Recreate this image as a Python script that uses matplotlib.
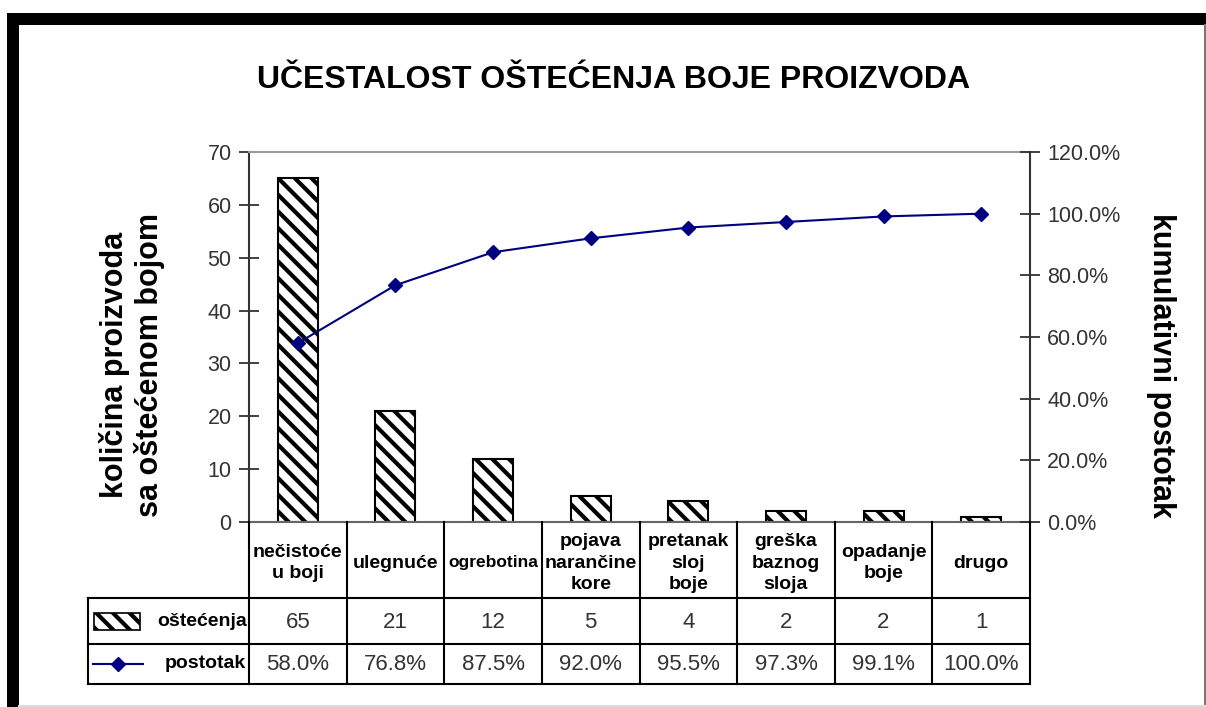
import matplotlib
matplotlib.use("Agg")
import matplotlib.pyplot as plt
import matplotlib.transforms as mtransforms
from matplotlib.patches import Rectangle
from matplotlib.lines import Line2D
from matplotlib.ticker import FuncFormatter

plt.rcParams["font.family"] = ["Liberation Sans", "DejaVu Sans"]
plt.rcParams["hatch.linewidth"] = 3.0

# data
categories = ["nečistoće\nu boji", "ulegnuće", "ogrebotina", "pojava\nnarančine\nkore",
              "pretanak\nsloj\nboje", "greška\nbaznog\nsloja", "opadanje\nboje", "drugo"]
counts = [65, 21, 12, 5, 4, 2, 2, 1]
cumulative = [58.0, 76.8, 87.5, 92.0, 95.5, 97.3, 99.1, 100.0]
series_names = ["oštećenja", "postotak"]

W, H = 1206, 707
NAVY = "#000080"
HATCH = "\\\\"


def fx(px):
    return px / W


def fy(py):
    return 1 - py / H


fig = plt.figure(figsize=(W / 100, H / 100), dpi=100)

# frame of the original screenshot
fig.add_artist(Rectangle((fx(7), fy(25)), fx(1206 - 7), 12 / H, transform=fig.transFigure,
                         facecolor="black", edgecolor="none"))
fig.add_artist(Rectangle((fx(7), 0), 12 / W, fy(13), transform=fig.transFigure,
                         facecolor="black", edgecolor="none"))
fig.add_artist(Line2D([fx(1204.5)] * 2, [0, fy(25)], transform=fig.transFigure, color="#777777", lw=1.5))
fig.add_artist(Line2D([fx(19), 1], [fy(705.5)] * 2, transform=fig.transFigure, color="#dddddd", lw=1.5))

fig.text(fx(614), fy(80), "UČESTALOST OŠTEĆENJA BOJE PROIZVODA", ha="center", va="center",
         fontsize=23, fontweight="bold")

left, right, top, bottom = 249, 1030, 152, 522
ax = fig.add_axes([fx(left), fy(bottom), (right - left) / W, (bottom - top) / H])
ax2 = ax.twinx()

x = list(range(len(categories)))
ax.bar(x, counts, width=0.41, facecolor="white", edgecolor="black", hatch=HATCH, linewidth=1.5, zorder=2)
ax2.plot(x, [v / 100 for v in cumulative], color=NAVY, lw=1.5, marker="D", markersize=7, zorder=3)

ax.set_xlim(-0.5, len(categories) - 0.5)
ax.set_ylim(0, 70)
ax2.set_ylim(0, 1.2)
ax.set_xticks([])
ax.set_yticks(range(0, 71, 10))
ax2.set_yticks([i / 10 for i in range(0, 13, 2)])
ax2.yaxis.set_major_formatter(FuncFormatter(lambda v, p: f"{v * 100:.1f}%"))

for a in (ax, ax2):
    a.tick_params(axis="y", direction="inout", length=15, width=1.3, labelsize=15.5,
                  labelcolor="#333333", color="#333333", pad=5)
    for s in a.spines.values():
        s.set_visible(False)
ax.spines["left"].set_visible(True)
ax.spines["left"].set_color("#333333")
ax.spines["left"].set_linewidth(1.5)
ax.spines["top"].set_visible(True)
ax.spines["top"].set_color("#999999")
ax.spines["top"].set_linewidth(1.5)
ax.spines["bottom"].set_visible(True)
ax.spines["bottom"].set_color("#666666")
ax.spines["bottom"].set_linewidth(1.5)
ax2.spines["right"].set_visible(True)
ax2.spines["right"].set_color("#333333")
ax2.spines["right"].set_linewidth(1.5)

fig.text(fx(132), fy(365), "količina proizvoda\nsa oštećenom bojom", rotation=90, ha="center", va="center",
         fontsize=22, fontweight="bold", linespacing=1.2)
fig.text(fx(1161), fy(365), "kumulativni postotak", rotation=-90, ha="center", va="center",
         fontsize=22, fontweight="bold")

# data table under the axis
tr = mtransforms.blended_transform_factory(ax.transData, fig.transFigure)
row_cat, row_cnt, row_pct, row_end = 522, 598, 644, 684
head_left = 88
lkw = dict(color="black", lw=1.5)
for i in range(len(categories) + 1):
    fig.add_artist(Line2D([i - 0.5] * 2, [fy(row_cat), fy(row_end)], transform=tr, **lkw))
for yy in (row_cnt, row_pct, row_end):
    fig.add_artist(Line2D([fx(head_left), fx(right)], [fy(yy)] * 2, transform=fig.transFigure, **lkw))
fig.add_artist(Line2D([fx(head_left)] * 2, [fy(row_cnt), fy(row_end)], transform=fig.transFigure, **lkw))

for i, (c, n, p) in enumerate(zip(categories, counts, cumulative)):
    fs = 12.5 if c == "ogrebotina" else 14
    fig.text(i, fy((row_cat + row_cnt) / 2 + 3), c, transform=tr, ha="center", va="center",
             fontsize=fs, fontweight="bold", linespacing=1.35)
    fig.text(i, fy((row_cnt + row_pct) / 2 + 1), str(n), transform=tr, ha="center", va="center",
             fontsize=16, color="#333333")
    fig.text(i, fy((row_pct + row_end) / 2 + 1), f"{p:.1f}%", transform=tr, ha="center", va="center",
             fontsize=16, color="#333333")

# legend keys in the row headers
fig.add_artist(Rectangle((fx(94), fy(630)), 46 / W, 17 / H, transform=fig.transFigure,
                         facecolor="white", edgecolor="black", hatch=HATCH, lw=1.2))
fig.text(fx(247), fy(621), series_names[0], ha="right", va="center", fontsize=14, fontweight="bold")
fig.add_artist(Line2D([fx(93), fx(143)], [fy(664)] * 2, transform=fig.transFigure, color=NAVY, lw=1.5))
fig.add_artist(Line2D([fx(118)], [fy(664)], transform=fig.transFigure, color=NAVY, marker="D",
                      markersize=7, lw=0))
fig.text(fx(246), fy(664), series_names[1], ha="right", va="center", fontsize=14, fontweight="bold")

fig.savefig("out.png", dpi=100, facecolor="white")
